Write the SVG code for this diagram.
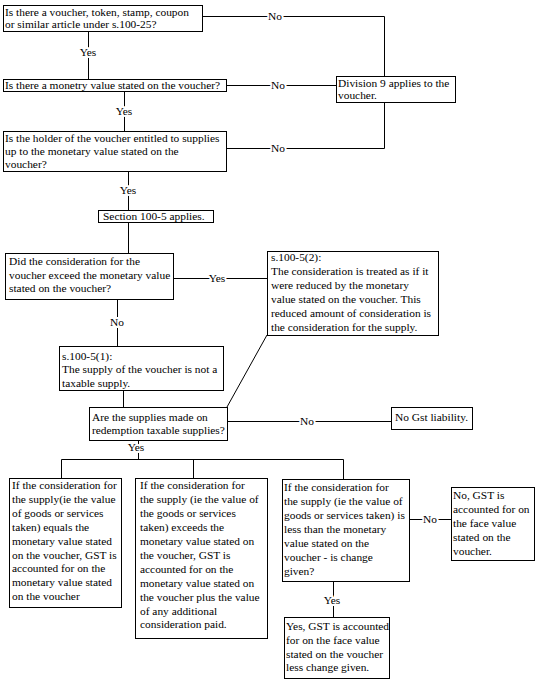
<svg xmlns="http://www.w3.org/2000/svg" width="554" height="700" viewBox="0 0 554 700">
<style>
.box{fill:#fff;stroke:#000;stroke-width:1}
.t{font-family:"Liberation Serif","Times New Roman",serif;font-size:11.4px;fill:#000}
.c{fill:none;stroke:#000;stroke-width:1}
.lbl{font-family:"Liberation Serif","Times New Roman",serif;font-size:11.4px;fill:#000;text-anchor:middle;stroke:#fff;stroke-width:4px;paint-order:stroke;stroke-linejoin:round}
</style>
<rect width="554" height="700" fill="#fff"/>
<g id="connectors">
<polyline class="c" points="202,16.5 384.5,16.5 384.5,76"/>
<line class="c" x1="88.5" y1="31" x2="88.5" y2="79"/>
<line class="c" x1="226" y1="85.5" x2="336" y2="85.5"/>
<line class="c" x1="124.5" y1="91" x2="124.5" y2="131"/>
<polyline class="c" points="226,148.5 384.5,148.5 384.5,102"/>
<line class="c" x1="128.5" y1="171" x2="128.5" y2="210"/>
<line class="c" x1="128.5" y1="222" x2="128.5" y2="253"/>
<line class="c" x1="173" y1="278.5" x2="267" y2="278.5"/>
<line class="c" x1="117.5" y1="299" x2="117.5" y2="346"/>
<line class="c" x1="123.5" y1="390" x2="123.5" y2="407"/>
<line class="c" x1="227" y1="407" x2="267" y2="335"/>
<line class="c" x1="227" y1="421.5" x2="391" y2="421.5"/>
<line class="c" x1="138.5" y1="440" x2="138.5" y2="459"/>
<polyline class="c" points="61.5,478 61.5,459.5 343.5,459.5 343.5,479"/>
<line class="c" x1="193.5" y1="459" x2="193.5" y2="478"/>
<line class="c" x1="409" y1="519.5" x2="451" y2="519.5"/>
<line class="c" x1="333.5" y1="581" x2="333.5" y2="617"/>
<text class="lbl" x="275" y="20">No</text>
<text class="lbl" x="88" y="56">Yes</text>
<text class="lbl" x="278" y="89">No</text>
<text class="lbl" x="124" y="115">Yes</text>
<text class="lbl" x="278" y="152">No</text>
<text class="lbl" x="128" y="194">Yes</text>
<text class="lbl" x="217" y="282">Yes</text>
<text class="lbl" x="117" y="326">No</text>
<text class="lbl" x="307" y="425">No</text>
<text class="lbl" x="136" y="451">Yes</text>
<text class="lbl" x="430" y="523">No</text>
<text class="lbl" x="332" y="604">Yes</text>
</g>
<g id="q-voucher">
<rect class="box" x="3.5" y="5.5" width="199" height="26"/>
<text class="t" x="5" y="16">Is there a voucher, token, stamp, coupon</text>
<text class="t" x="5" y="28">or similar article under s.100-25?</text>
</g>
<g id="q-monetary">
<rect class="box" x="3.5" y="79.5" width="223" height="12"/>
<text class="t" x="5" y="89">Is there a monetry value stated on the voucher?</text>
</g>
<g id="q-holder">
<rect class="box" x="3.5" y="131.5" width="223" height="40"/>
<text class="t" x="5" y="142">Is the holder of the voucher entitled to supplies</text>
<text class="t" x="5" y="155">up to the monetary value stated on the</text>
<text class="t" x="5" y="168">voucher?</text>
</g>
<g id="division9">
<rect class="box" x="336.5" y="76.5" width="119" height="26"/>
<text class="t" x="338" y="87">Division 9 applies to the</text>
<text class="t" x="338" y="99">voucher.</text>
</g>
<g id="section100-5">
<rect class="box" x="98.5" y="210.5" width="115" height="12"/>
<text class="t" x="103" y="220">Section 100-5 applies.</text>
</g>
<g id="q-exceed">
<rect class="box" x="5.5" y="253.5" width="168" height="46"/>
<text class="t" x="9" y="265">Did the consideration for the</text>
<text class="t" x="9" y="279">voucher exceed the monetary value</text>
<text class="t" x="9" y="292">stated on the voucher?</text>
</g>
<g id="s100-5-2">
<rect class="box" x="267.5" y="251.5" width="171" height="84"/>
<text class="t" x="271" y="261">s.100-5(2):</text>
<text class="t" x="271" y="275">The consideration is treated as if it</text>
<text class="t" x="271" y="289">were reduced by the monetary</text>
<text class="t" x="271" y="303">value stated on the voucher. This</text>
<text class="t" x="271" y="317">reduced amount of consideration is</text>
<text class="t" x="271" y="331">the consideration for the supply.</text>
</g>
<g id="s100-5-1">
<rect class="box" x="59.5" y="346.5" width="164" height="44"/>
<text class="t" x="62" y="360">s.100-5(1):</text>
<text class="t" x="62" y="373">The supply of the voucher is not a</text>
<text class="t" x="62" y="387">taxable supply.</text>
</g>
<g id="q-taxable">
<rect class="box" x="89.5" y="407.5" width="138" height="33"/>
<text class="t" x="92" y="421">Are the supplies made on</text>
<text class="t" x="92" y="434">redemption taxable supplies?</text>
</g>
<g id="no-gst">
<rect class="box" x="391.5" y="407.5" width="81" height="22"/>
<text class="t" x="395" y="421">No Gst liability.</text>
</g>
<g id="equals">
<rect class="box" x="9.5" y="478.5" width="112" height="129"/>
<text class="t" x="12" y="489">If the consideration for</text>
<text class="t" x="12" y="503">the supply(ie the value</text>
<text class="t" x="12" y="517">of goods or services</text>
<text class="t" x="12" y="531">taken) equals the</text>
<text class="t" x="12" y="545">monetary value stated</text>
<text class="t" x="12" y="559">on the voucher, GST is</text>
<text class="t" x="12" y="572">accounted for on the</text>
<text class="t" x="12" y="586">monetary value stated</text>
<text class="t" x="12" y="600">on the voucher</text>
</g>
<g id="exceeds">
<rect class="box" x="135.5" y="478.5" width="132" height="160"/>
<text class="t" x="140" y="489">If the consideration for</text>
<text class="t" x="140" y="503">the supply (ie the value of</text>
<text class="t" x="140" y="517">the goods or services</text>
<text class="t" x="140" y="531">taken) exceeds the</text>
<text class="t" x="140" y="545">monetary value stated on</text>
<text class="t" x="140" y="559">the voucher, GST is</text>
<text class="t" x="140" y="573">accounted for on the</text>
<text class="t" x="140" y="587">monetary value stated on</text>
<text class="t" x="140" y="601">the voucher plus the value</text>
<text class="t" x="140" y="615">of any additional</text>
<text class="t" x="140" y="628">consideration paid.</text>
</g>
<g id="less-than">
<rect class="box" x="282.5" y="479.5" width="127" height="102"/>
<text class="t" x="284" y="491">If the consideration for</text>
<text class="t" x="284" y="505">the supply (ie the value of</text>
<text class="t" x="284" y="519">goods or services taken) is</text>
<text class="t" x="284" y="533">less than the monetary</text>
<text class="t" x="284" y="547">value stated on the</text>
<text class="t" x="284" y="561">voucher - is change</text>
<text class="t" x="284" y="575">given?</text>
</g>
<g id="no-change">
<rect class="box" x="451.5" y="487.5" width="83" height="73"/>
<text class="t" x="453" y="499">No, GST is</text>
<text class="t" x="453" y="513">accounted for on</text>
<text class="t" x="453" y="527">the face value</text>
<text class="t" x="453" y="541">stated on the</text>
<text class="t" x="453" y="555">voucher.</text>
</g>
<g id="yes-change">
<rect class="box" x="284.5" y="617.5" width="105" height="61"/>
<text class="t" x="286" y="630">Yes, GST is accounted</text>
<text class="t" x="286" y="644">for on the face value</text>
<text class="t" x="286" y="658">stated on the voucher</text>
<text class="t" x="286" y="671">less change given.</text>
</g>
</svg>
